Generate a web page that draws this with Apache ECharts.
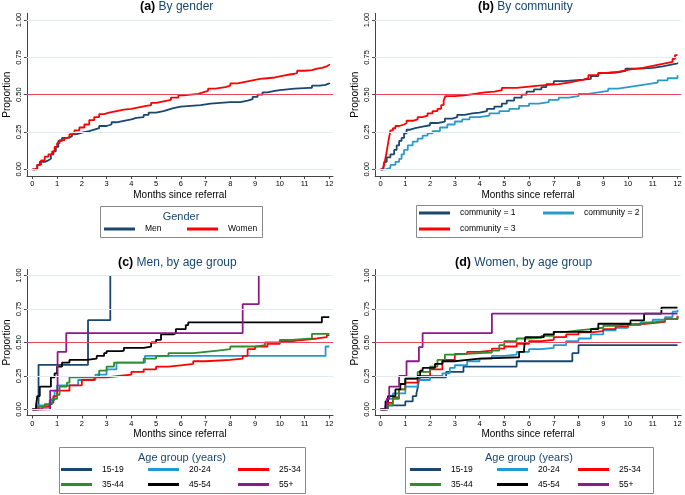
<!DOCTYPE html>
<html>
<head>
<meta charset="utf-8">
<script src="https://cdn.jsdelivr.net/npm/echarts@6/dist/echarts.min.js"></script>
<style>html,body{margin:0;padding:0;background:#fff}#c{width:685px;height:495px}</style>
</head>
<body>
<div id="c"></div>
<script>
// ---------- tick labels ----------
const monthTicks = [0,1,2,3,4,5,6,7,8,9,10,11,12];
const propTicks = [0,0.25,0.5,0.75,1];

// ---------- panel titles / legends ----------
const panelTitles = [['(a)','By gender'],['(b)','By community'],['(c)','Men, by age group'],['(d)','Women, by age group']];
const genderNames = ['Men','Women'];
const communityNames = ['community = 1','community = 2','community = 3'];
const ageNames = ['15-19','20-24','25-34','35-44','45-54','55+'];

// ---------- (a) By gender: [months, proportion] ----------
const men = [[0,0],[0.1,0],[0.2,0.03],[0.3,0.05],[0.5,0.06],[0.65,0.07],[0.75,0.1],[0.85,0.12],[0.95,0.15],[1.05,0.19],[1.2,0.21],[1.4,0.22],[1.6,0.235],[1.8,0.245],[2.0,0.255],[2.3,0.265],[2.5,0.275],[2.7,0.29],[3.0,0.30],[3.2,0.315],[3.4,0.325],[3.7,0.335],[4.0,0.345],[4.2,0.35],[4.5,0.365],[4.7,0.38],[5.0,0.39],[5.3,0.40],[5.5,0.41],[5.7,0.42],[6.0,0.425],[6.4,0.43],[6.8,0.44],[7.2,0.445],[7.6,0.45],[8.0,0.45],[8.3,0.45],[8.4,0.46],[8.7,0.47],[8.9,0.485],[9.1,0.50],[9.3,0.515],[9.5,0.525],[9.8,0.53],[10.0,0.535],[10.3,0.54],[10.6,0.545],[11.2,0.545],[11.3,0.56],[11.6,0.565],[11.85,0.575],[12,0.58]];
const women = [[0,0],[0.1,0.01],[0.2,0.03],[0.35,0.06],[0.5,0.085],[0.65,0.10],[0.8,0.12],[0.9,0.15],[1.0,0.175],[1.1,0.195],[1.3,0.21],[1.5,0.235],[1.7,0.26],[1.9,0.28],[2.1,0.30],[2.3,0.33],[2.5,0.35],[2.7,0.37],[2.9,0.38],[3.1,0.39],[3.4,0.40],[3.7,0.405],[4.0,0.415],[4.3,0.425],[4.6,0.43],[4.8,0.445],[5.0,0.455],[5.3,0.465],[5.6,0.48],[5.9,0.495],[6.1,0.50],[6.4,0.505],[6.7,0.515],[6.9,0.525],[7.1,0.54],[7.4,0.55],[7.8,0.56],[8.0,0.575],[8.3,0.585],[8.6,0.595],[8.9,0.605],[9.2,0.61],[9.5,0.615],[9.8,0.625],[10.1,0.635],[10.4,0.64],[10.6,0.645],[10.7,0.66],[11.0,0.665],[11.3,0.675],[11.5,0.68],[11.7,0.69],[11.9,0.70],[12,0.705]];

// ---------- (b) By community ----------
const comm1 = [[0,0],[0.1,0.01],[0.15,0.05],[0.25,0.08],[0.4,0.1],[0.55,0.13],[0.65,0.16],[0.75,0.19],[0.85,0.21],[0.95,0.24],[1.05,0.265],[1.2,0.275],[1.4,0.285],[1.7,0.295],[2.0,0.31],[2.3,0.32],[2.6,0.34],[2.9,0.35],[3.1,0.365],[3.4,0.375],[3.7,0.38],[4.0,0.39],[4.3,0.405],[4.6,0.42],[4.9,0.44],[5.1,0.46],[5.4,0.48],[5.7,0.50],[5.9,0.52],[6.2,0.535],[6.5,0.55],[6.7,0.57],[7.0,0.59],[7.4,0.595],[7.8,0.60],[8.2,0.605],[8.5,0.625],[8.8,0.645],[9.2,0.65],[9.6,0.66],[9.9,0.675],[10.5,0.68],[11.0,0.69],[11.4,0.70],[11.7,0.71],[12,0.715]];
const comm2 = [[0,0],[0.2,0.01],[0.4,0.03],[0.6,0.05],[0.75,0.07],[0.85,0.10],[0.95,0.13],[1.1,0.16],[1.3,0.185],[1.5,0.205],[1.7,0.225],[1.9,0.24],[2.1,0.255],[2.4,0.28],[2.7,0.30],[3.0,0.32],[3.3,0.335],[3.6,0.35],[4.0,0.36],[4.4,0.375],[4.8,0.39],[5.2,0.405],[5.6,0.425],[6.0,0.44],[6.4,0.45],[6.8,0.465],[7.2,0.48],[7.6,0.49],[8.0,0.505],[8.4,0.515],[8.8,0.525],[9.2,0.54],[9.6,0.55],[10.0,0.56],[10.4,0.57],[10.8,0.58],[11.2,0.595],[11.6,0.61],[12,0.63]];
const comm3 = [[0,0],[0.1,0.01],[0.18,0.06],[0.25,0.12],[0.32,0.19],[0.4,0.26],[0.5,0.275],[0.6,0.29],[0.75,0.30],[0.95,0.31],[1.05,0.325],[1.3,0.335],[1.5,0.35],[1.7,0.36],[1.9,0.375],[2.1,0.39],[2.3,0.405],[2.45,0.43],[2.55,0.46],[2.62,0.49],[3.0,0.495],[3.4,0.505],[3.8,0.515],[4.2,0.52],[4.6,0.53],[4.9,0.545],[5.5,0.55],[5.8,0.56],[6.4,0.565],[6.8,0.57],[7.2,0.58],[7.6,0.59],[7.9,0.60],[8.2,0.61],[8.4,0.63],[8.8,0.645],[9.1,0.65],[9.5,0.66],[9.8,0.67],[10.1,0.68],[10.6,0.69],[10.9,0.70],[11.2,0.71],[11.5,0.72],[11.8,0.74],[11.9,0.765],[12,0.765]];

// ---------- (c) Men, by age group ----------
const menAge1519 = [[0,0],[0.25,0.333],[2.25,0.667],[3.15,1.0]];
const menAge2024 = [[0,0],[0.2,0.03],[0.7,0.07],[0.9,0.14],[1.0,0.18],[1.85,0.22],[2.55,0.26],[3.0,0.30],[3.4,0.35],[4.55,0.40],[11.85,0.47],[12,0.47]];
const menAge2534 = [[0,0],[0.4,0.02],[0.7,0.05],[0.85,0.1],[1.0,0.14],[1.5,0.18],[2.0,0.22],[2.5,0.24],[3.0,0.25],[3.5,0.26],[4.0,0.28],[4.5,0.30],[5.0,0.32],[5.5,0.33],[6.0,0.34],[6.5,0.36],[7.0,0.37],[8.0,0.38],[8.5,0.40],[8.7,0.45],[9.0,0.47],[9.5,0.49],[10.0,0.51],[10.5,0.52],[11.0,0.53],[11.5,0.54],[11.9,0.555],[12,0.555]];
const menAge3544 = [[0,0],[0.2,0.02],[0.5,0.04],[0.8,0.08],[1.0,0.11],[1.1,0.17],[1.4,0.2],[1.5,0.24],[2.5,0.25],[2.7,0.29],[3.0,0.32],[3.3,0.35],[4.5,0.38],[5.0,0.40],[5.5,0.42],[6.5,0.43],[7.0,0.44],[7.5,0.45],[8.0,0.47],[9.0,0.48],[9.4,0.50],[10.0,0.52],[10.5,0.53],[11.3,0.565],[12,0.565]];
const menAge4554 = [[0,0],[0.15,0.03],[0.2,0.1],[0.3,0.17],[0.75,0.24],[0.9,0.27],[1.0,0.32],[1.2,0.35],[1.5,0.37],[2.2,0.38],[2.6,0.40],[2.9,0.42],[3.0,0.435],[3.6,0.44],[3.7,0.46],[4.5,0.47],[4.8,0.50],[5.0,0.52],[5.2,0.56],[5.7,0.57],[5.8,0.60],[6.2,0.63],[6.3,0.65],[11.7,0.69],[12,0.69]];
const menAge55 = [[0,0],[0.72,0.14],[1.02,0.43],[1.37,0.57],[8.5,0.786],[9.15,1.0]];

// ---------- (d) Women, by age group ----------
const wAge1519 = [[0,0],[0.2,0.03],[1.0,0.06],[1.3,0.10],[1.45,0.12],[1.5,0.16],[1.55,0.22],[1.6,0.24],[2.65,0.28],[3.35,0.32],[5.5,0.36],[7.75,0.42],[8.0,0.48],[12,0.48]];
const wAge2024 = [[0,0],[0.3,0.08],[0.5,0.12],[1.0,0.17],[1.5,0.22],[2.0,0.25],[2.5,0.27],[2.8,0.31],[3.0,0.33],[3.5,0.36],[4.0,0.38],[4.5,0.40],[5.0,0.41],[5.5,0.43],[6.0,0.45],[6.5,0.46],[7.0,0.48],[7.5,0.51],[8.0,0.53],[8.5,0.56],[9.0,0.59],[9.5,0.61],[10.0,0.63],[10.5,0.65],[11.0,0.67],[11.5,0.69],[11.8,0.73],[12,0.745]];
const wAge2534 = [[0,0],[0.3,0.05],[0.5,0.09],[0.75,0.15],[1.0,0.2],[1.5,0.25],[2.0,0.30],[2.5,0.37],[3.0,0.415],[3.5,0.43],[4.0,0.44],[4.5,0.455],[5.0,0.47],[5.5,0.49],[6.0,0.51],[6.5,0.52],[7.0,0.54],[7.5,0.56],[8.0,0.575],[8.5,0.585],[9.0,0.60],[9.5,0.62],[10.0,0.635],[10.5,0.645],[11.0,0.655],[11.5,0.675],[12,0.70]];
const wAge3544 = [[0,0],[0.3,0.03],[0.5,0.08],[0.75,0.15],[1.0,0.23],[1.5,0.28],[2.0,0.32],[2.3,0.37],[2.6,0.41],[3.0,0.42],[4.0,0.425],[4.5,0.44],[4.8,0.48],[5.0,0.51],[5.5,0.53],[6.0,0.535],[6.5,0.55],[7.0,0.58],[7.5,0.59],[8.0,0.60],[8.5,0.61],[9.0,0.625],[9.5,0.635],[10.0,0.64],[10.5,0.65],[11.0,0.66],[11.5,0.675],[12,0.695]];
const wAge4554 = [[0,0],[0.2,0.06],[0.3,0.10],[0.6,0.15],[0.8,0.19],[1.0,0.23],[1.5,0.25],[1.6,0.29],[1.7,0.31],[2.2,0.34],[2.5,0.36],[3.0,0.37],[3.5,0.38],[4.0,0.39],[5.6,0.43],[5.8,0.45],[5.85,0.54],[6.6,0.56],[7.0,0.58],[8.5,0.60],[8.8,0.64],[10.1,0.665],[10.65,0.715],[11.35,0.76],[12,0.76]];
const wAge55 = [[0,0],[0.25,0.08],[0.35,0.17],[0.75,0.25],[1.05,0.36],[1.55,0.465],[1.7,0.57],[4.5,0.715],[12,0.715]];

// ---------- styling ----------
const FONT = '"Liberation Sans", Arial, sans-serif';
const NAVY = '#1a476f', LBLUE = '#1f9ad6', TEAL = '#2a9bc8', RED = '#ff0000', GREEN = '#2e8b2e', BLACK = '#000000', PURPLE = '#8b1a8b';
const ageColors = [NAVY, LBLUE, RED, GREEN, BLACK, PURPLE];

const grids = [
  {left: 26.9, top: 13.3, width: 306.1, height: 162.7},
  {left: 375.1, top: 13.3, width: 306.1, height: 162.7},
  {left: 26.9, top: 269.5, width: 306.1, height: 146},
  {left: 375.1, top: 269.5, width: 306.1, height: 146}
];

function onlyTicks(list, fmt) {
  return v => list.some(t => Math.abs(t - v) < 1e-6) ? fmt(v) : '';
}

const axisColor = '#444';
const xAxes = grids.map((g, i) => ({
  type: 'value', gridIndex: i, min: -0.22, max: 12.15,
  axisLine: {show: true, onZero: false, lineStyle: {color: axisColor, width: 1}},
  axisTick: {show: true, length: 3, customValues: monthTicks, lineStyle: {color: axisColor}},
  axisLabel: {customValues: monthTicks, fontSize: 7.5, color: '#000', margin: 4, fontFamily: FONT,
    formatter: onlyTicks(monthTicks, v => String(Math.round(v)))},
  splitLine: {show: false},
  name: 'Months since referral', nameLocation: 'middle', nameGap: 14,
  nameTextStyle: {fontSize: 10, color: '#000', fontFamily: FONT}
}));
const yAxes = grids.map((g, i) => ({
  type: 'value', gridIndex: i, min: -0.045, max: 1.045,
  axisLine: {show: true, onZero: false, lineStyle: {color: axisColor, width: 1}},
  axisTick: {show: true, length: 3, customValues: propTicks, lineStyle: {color: axisColor}},
  axisLabel: {customValues: propTicks, rotate: 90, fontSize: 7.5, color: '#000', margin: 4, fontFamily: FONT,
    formatter: onlyTicks(propTicks, v => v.toFixed(2))},
  splitLine: {show: false},
  name: 'Proportion', nameLocation: 'middle', nameGap: 15, nameRotate: 90,
  nameTextStyle: {fontSize: 10, color: '#000', fontFamily: FONT}
}));

function refLines() {
  const grid = {lineStyle: {color: '#e2ecf0', width: 1, type: 'solid'}};
  return {
    silent: true, symbol: 'none', label: {show: false}, animation: false,
    data: [
      Object.assign({yAxis: 0}, grid), Object.assign({yAxis: 0.25}, grid),
      Object.assign({yAxis: 0.75}, grid), Object.assign({yAxis: 1}, grid),
      {yAxis: 0.5, lineStyle: {color: '#e8485a', width: 1, type: 'solid'}}
    ]
  };
}

function mk(name, data, color, gi, first) {
  const s = {
    type: 'line', name, data, step: 'end', xAxisIndex: gi, yAxisIndex: gi,
    symbol: 'none', showSymbol: false, animation: false,
    lineStyle: {color, width: 1.8}, itemStyle: {color}
  };
  if (first) s.markLine = refLines();
  return s;
}

const series = [
  mk(genderNames[0], men, NAVY, 0, true),
  mk(genderNames[1], women, RED, 0),
  mk(communityNames[0], comm1, NAVY, 1, true),
  mk(communityNames[1], comm2, TEAL, 1),
  mk(communityNames[2], comm3, RED, 1)
];
[menAge1519, menAge2024, menAge2534, menAge3544, menAge4554, menAge55].forEach((d, k) =>
  series.push(mk(ageNames[k], d, ageColors[k], 2, k === 0)));
[wAge1519, wAge2024, wAge2534, wAge3544, wAge4554, wAge55].forEach((d, k) =>
  series.push(mk(ageNames[k], d, ageColors[k], 3, k === 0)));

// titles
const titleLeft = [140, 478, 118, 455];
const titleTop = [0, 0, 256, 256];
const titles = panelTitles.map((t, i) => ({
  left: titleLeft[i], top: titleTop[i], padding: 0,
  text: '{b|' + t[0] + '} {n|' + t[1] + '}',
  textStyle: {fontWeight: 'normal', fontSize: 12, rich: {
    b: {fontSize: 12.5, fontWeight: 'bold', color: '#000', fontFamily: FONT},
    n: {fontSize: 12, fontWeight: 'normal', color: NAVY, fontFamily: FONT}
  }}
}));

// legends: one component per entry, placed in columns
const legendItems = [
  {name: 'Men', x: 104, y: 229.5, color: NAVY},
  {name: 'Women', x: 187, y: 229.5, color: RED},
  {name: 'community = 1', x: 419, y: 213.5, color: NAVY},
  {name: 'community = 2', x: 543, y: 213.5, color: TEAL},
  {name: 'community = 3', x: 419, y: 229.5, color: RED}
];
const cCols = [61, 148, 238], dCols = [410, 497, 578], rowsY = [470, 485];
ageNames.forEach((n, k) => {
  legendItems.push({name: n, x: cCols[k % 3], y: rowsY[Math.floor(k / 3)], color: ageColors[k]});
  legendItems.push({name: n, x: dCols[k % 3], y: rowsY[Math.floor(k / 3)], color: ageColors[k]});
});
const legends = legendItems.map(it => ({
  left: it.x, top: it.y - 5, padding: 0, itemWidth: 31, itemHeight: 3, icon: 'rect',
  selectedMode: false, data: [{name: it.name, itemStyle: {color: it.color}}],
  textStyle: {fontSize: 8.5, color: '#000', fontFamily: FONT, padding: [0, 0, 0, 5]}
}));

const boxStyle = {fill: '#fff', stroke: '#8a8a8a', lineWidth: 1};
const graphics = [
  {type: 'rect', shape: {x: 100.5, y: 206.5, width: 162, height: 31}, style: boxStyle, z: -1, silent: true},
  {type: 'rect', shape: {x: 416.5, y: 205.5, width: 226, height: 32}, style: boxStyle, z: -1, silent: true},
  {type: 'rect', shape: {x: 59.5, y: 447.5, width: 246, height: 46}, style: boxStyle, z: -1, silent: true},
  {type: 'rect', shape: {x: 405.5, y: 447.5, width: 248, height: 46}, style: boxStyle, z: -1, silent: true},
  {type: 'text', x: 181, y: 216.5, style: {text: 'Gender', fill: NAVY, font: '11px ' + FONT, textAlign: 'center', textVerticalAlign: 'middle'}},
  {type: 'text', x: 182, y: 458, style: {text: 'Age group (years)', fill: NAVY, font: '11px ' + FONT, textAlign: 'center', textVerticalAlign: 'middle'}},
  {type: 'text', x: 529, y: 458, style: {text: 'Age group (years)', fill: NAVY, font: '11px ' + FONT, textAlign: 'center', textVerticalAlign: 'middle'}}
];

const chart = echarts.init(document.getElementById('c'), null, {renderer: 'canvas'});
chart.setOption({
  backgroundColor: '#fff',
  animation: false,
  title: titles,
  grid: grids,
  xAxis: xAxes,
  yAxis: yAxes,
  legend: legends,
  series: series,
  graphic: graphics
});
</script>
</body>
</html>
